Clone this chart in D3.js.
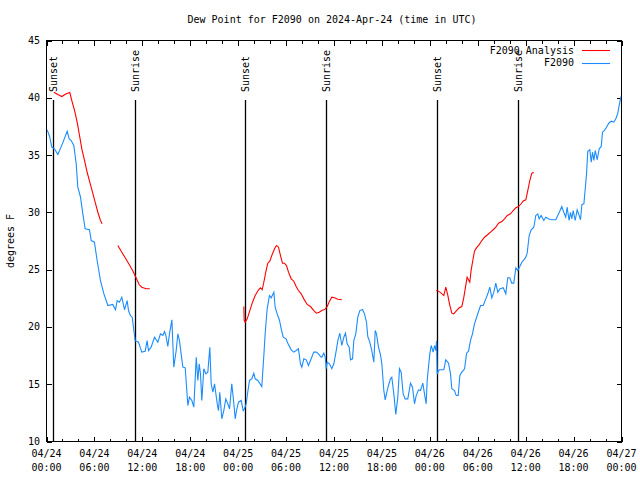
<!DOCTYPE html>
<html><head><meta charset="utf-8">
<script src="https://cdn.jsdelivr.net/npm/d3@7/dist/d3.min.js"></script>
<style>body{margin:0;background:#fff}svg{display:block}text{font-family:"DejaVu Sans Mono",monospace;font-size:10px;fill:#000}</style>
</head><body><svg id="c" width="640" height="480"></svg>
<script>
const titleText = "Dew Point for F2090 on 2024-Apr-24 (time in UTC)";
const yLabel = "degrees F";
const seriesNames = ["F2090 Analysis", "F2090"];
const yTicks = [10, 15, 20, 25, 30, 35, 40, 45];
const xMajorHours = [0, 6, 12, 18, 24, 30, 36, 42, 48, 54, 60, 66, 72];
const sunsetHours = [0.8, 24.82, 48.85];
const sunriseHours = [11.05, 35.05, 59.02];
// hours since 2024-04-24 00:00 UTC, dew point (F)
const station = [[0.08,37.2],[0.4,36.6],[0.66,35.7],[1.0,35.55],[1.42,35.05],[2.0,36.0],[2.59,37.08],[2.85,36.4],[3.09,36.27],[3.42,35.84],[3.72,34.24],[3.92,32.2],[4.26,31.32],[4.55,29.87],[4.84,28.56],[5.38,28.48],[5.6,27.54],[6.0,27.4],[6.34,25.8],[6.76,24.05],[7.18,22.9],[7.68,21.87],[8.3,21.96],[8.64,21.5],[8.85,22.3],[9.14,22.16],[9.43,22.6],[9.77,21.5],[10.1,22.3],[10.27,21.43],[10.5,21.0],[10.73,20.85],[10.93,19.75],[11.1,18.8],[11.52,18.67],[11.93,17.8],[12.36,17.88],[12.6,18.8],[12.77,17.94],[13.1,18.23],[13.52,19.1],[13.94,18.67],[14.27,19.4],[14.56,19.25],[14.78,19.6],[14.95,19.25],[15.19,18.3],[15.4,19.4],[15.7,20.62],[15.94,16.49],[16.24,17.94],[16.45,19.4],[16.65,18.8],[16.86,17.65],[17.07,16.49],[17.37,16.43],[17.7,13.14],[17.9,13.87],[18.2,13.58],[18.45,13.0],[18.75,17.36],[18.95,15.33],[19.12,16.78],[19.28,15.9],[19.45,13.58],[19.7,16.35],[19.95,15.9],[20.2,16.05],[20.45,18.23],[20.62,15.04],[20.83,14.3],[21.04,15.04],[21.37,13.34],[21.54,12.7],[21.7,14.3],[21.95,11.98],[22.2,12.7],[22.45,13.72],[22.7,13.29],[22.92,12.85],[23.2,15.04],[23.42,13.58],[23.63,11.98],[23.79,12.7],[24.04,13.43],[24.38,13.58],[24.63,12.7],[24.79,12.85],[25.0,13.29],[25.2,14.3],[25.42,15.33],[25.7,15.47],[25.96,15.96],[26.13,15.47],[26.46,15.33],[26.96,14.8],[27.2,17.36],[27.38,19.4],[27.63,21.58],[27.92,22.74],[28.13,22.54],[28.47,23.03],[28.63,21.72],[28.88,21.14],[29.18,20.56],[29.39,19.84],[29.64,19.1],[30.0,18.96],[30.2,18.6],[30.64,18.0],[30.97,17.8],[31.26,17.94],[31.55,18.09],[31.8,16.78],[31.97,16.49],[32.22,17.22],[32.52,17.13],[32.8,16.63],[33.14,17.22],[33.47,17.8],[33.8,17.8],[34.06,17.65],[34.31,17.42],[34.47,17.36],[34.72,17.71],[34.9,17.36],[35.02,16.35],[35.15,16.92],[35.44,16.78],[35.73,16.35],[35.98,16.78],[36.28,17.94],[36.48,18.8],[36.73,19.45],[36.98,18.38],[37.23,19.1],[37.44,19.45],[37.65,18.53],[37.9,18.23],[38.07,17.13],[38.32,17.22],[38.48,18.8],[38.73,19.4],[38.98,20.85],[39.23,21.43],[39.57,21.52],[39.82,21.14],[40.07,20.41],[40.23,19.16],[40.48,18.67],[40.73,17.94],[40.99,16.92],[41.16,19.69],[41.32,19.4],[41.57,18.23],[41.82,17.56],[41.99,16.78],[42.24,14.45],[42.41,13.64],[42.57,14.16],[42.82,14.89],[43.07,15.47],[43.24,15.61],[43.49,14.16],[43.74,12.36],[43.99,13.87],[44.2,16.35],[44.41,16.05],[44.66,14.16],[44.91,13.72],[45.24,13.72],[45.58,15.09],[45.83,14.74],[46.08,13.29],[46.29,14.01],[46.58,14.51],[46.83,14.45],[47.12,15.09],[47.33,14.16],[47.54,13.29],[47.67,15.33],[47.83,16.49],[48.0,17.65],[48.17,18.38],[48.42,17.8],[48.59,18.38],[48.75,17.94],[48.84,18.8],[48.92,15.9],[49.17,16.26],[49.75,16.26],[50.0,17.13],[50.34,16.84],[50.59,15.9],[50.75,14.6],[51.09,14.45],[51.3,14.01],[51.55,14.01],[51.76,15.76],[52.01,16.05],[52.35,16.35],[52.6,17.71],[52.85,17.88],[53.09,18.8],[53.34,19.4],[53.59,20.27],[53.93,21.0],[54.35,21.87],[54.68,21.87],[55.01,22.45],[55.26,22.89],[55.51,23.47],[55.76,22.54],[56.01,23.03],[56.26,23.82],[56.51,23.03],[56.76,23.32],[57.19,23.42],[57.51,22.89],[57.76,24.29],[58.01,24.29],[58.26,23.82],[58.51,23.82],[58.77,25.16],[59.02,24.93],[59.27,25.27],[59.52,25.65],[59.77,25.86],[60.02,26.09],[60.19,26.44],[60.44,27.98],[60.69,28.48],[61.02,28.7],[61.27,29.73],[61.52,29.87],[61.69,29.44],[61.94,29.73],[62.27,29.29],[62.52,29.58],[62.85,29.44],[63.19,29.35],[63.77,29.35],[64.02,29.73],[64.27,30.1],[64.52,30.51],[64.77,30.01],[65.02,29.58],[65.19,30.45],[65.44,29.29],[65.61,30.01],[65.78,29.44],[65.95,30.16],[66.2,29.29],[66.45,30.22],[66.7,29.73],[66.87,29.35],[67.04,30.68],[67.29,30.75],[67.46,32.06],[67.62,33.36],[67.78,35.34],[68.03,35.46],[68.21,34.38],[68.37,35.25],[68.54,34.53],[68.71,35.4],[68.96,34.59],[69.21,35.55],[69.46,35.75],[69.62,37.0],[69.87,37.15],[70.12,37.43],[70.41,37.78],[70.71,37.96],[71.04,37.87],[71.29,38.17],[71.54,38.66],[71.71,39.33],[71.87,39.91],[72.0,40.2]];
const analysis1 = [[0.92,40.49],[1.42,40.29],[1.92,40.11],[2.47,40.35],[2.92,40.46],[3.17,39.76],[3.51,38.89],[3.84,37.87],[4.17,36.56],[4.42,35.55],[4.76,34.53],[5.09,33.5],[5.42,32.63],[5.76,31.76],[6.09,30.89],[6.43,30.01],[6.76,29.29],[6.97,29.0]];
const analysis2 = [[8.93,27.11],[9.43,26.52],[9.93,25.95],[10.43,25.36],[10.85,24.84],[11.27,24.2],[11.6,23.7],[11.93,23.47],[12.48,23.33],[12.94,23.33]];
const analysis3 = [[24.71,21.78],[24.75,20.6],[24.88,20.41],[25.13,20.71],[25.46,21.43],[25.8,22.16],[26.13,22.74],[26.55,23.24],[26.8,23.42],[27.01,23.24],[27.21,23.9],[27.46,24.78],[27.71,25.56],[27.96,25.74],[28.21,26.23],[28.55,26.82],[28.8,27.11],[29.05,26.96],[29.3,26.23],[29.55,25.56],[29.8,25.56],[30.05,25.36],[30.3,24.78],[30.64,24.2],[30.97,23.99],[31.26,23.53],[31.55,23.18],[31.89,22.89],[32.22,22.45],[32.64,21.96],[33.06,21.78],[33.47,21.43],[33.8,21.2],[34.14,21.29],[34.47,21.43],[34.9,21.55],[35.15,21.78],[35.44,22.25],[35.73,22.6],[36.06,22.54],[36.48,22.42],[36.98,22.37]];
const analysis4 = [[48.79,23.18],[49.09,23.12],[49.42,22.95],[49.75,22.74],[50.0,23.47],[50.26,22.74],[50.46,22.02],[50.75,21.2],[51.0,21.14],[51.34,21.43],[51.68,21.67],[52.01,21.78],[52.26,22.6],[52.5,23.62],[52.67,24.34],[52.84,24.11],[53.0,23.9],[53.17,24.93],[53.38,25.8],[53.59,26.61],[53.84,26.9],[54.18,27.19],[54.51,27.54],[54.85,27.83],[55.26,28.07],[55.6,28.27],[55.93,28.48],[56.26,28.7],[56.6,29.05],[57.02,29.2],[57.35,29.44],[57.69,29.73],[58.1,29.87],[58.44,30.16],[58.77,30.4],[59.1,30.51],[59.44,30.75],[59.69,31.0],[60.02,31.09],[60.27,31.91],[60.52,32.78],[60.77,33.42],[61.02,33.48]];

const t0 = Date.UTC(2024, 3, 24, 0, 0);
const T = h => new Date(t0 + h * 3600e3);
const L = 46.5, R = 621.5, TOP = 40.5, BOT = 441.5;
const x = d3.scaleUtc().domain([T(0), T(72)]).range([L, R]);
const y = d3.scaleLinear().domain([10, 45]).range([BOT, TOP]);
const svg = d3.select("#c");

svg.append("text").attr("x", 332).attr("y", 23).attr("text-anchor", "middle").text(titleText);
svg.append("text").attr("transform", "translate(14,241) rotate(-90)").attr("text-anchor", "middle").text(yLabel);

const minorHours = d3.range(0, 73, 2).filter(h => h % 6 !== 0);
function ticksX(g, dir) {
  g.append("g").call(d3.axisBottom(x).tickValues(xMajorHours.map(T)).tickSize(dir * 5).tickFormat(""))
    .call(a => a.select(".domain").remove());
  g.append("g").call(d3.axisBottom(x).tickValues(minorHours.map(T)).tickSize(dir * 3).tickFormat(""))
    .call(a => a.select(".domain").remove());
}
ticksX(svg.append("g").attr("transform", `translate(0,${BOT})`), -1);
ticksX(svg.append("g").attr("transform", `translate(0,${TOP})`), 1);
svg.append("g").attr("transform", `translate(${L},0)`)
  .call(d3.axisLeft(y).tickValues(yTicks).tickSize(-5).tickFormat(""))
  .call(a => a.select(".domain").remove());
svg.append("g").attr("transform", `translate(${R},0)`)
  .call(d3.axisRight(y).tickValues(yTicks).tickSize(-5).tickFormat(""))
  .call(a => a.select(".domain").remove());
svg.selectAll(".tick line").attr("stroke", "#000").attr("shape-rendering", "crispEdges");

svg.append("g").selectAll("text").data(yTicks).join("text")
  .attr("x", 40).attr("y", d => y(d)).attr("dy", "0.35em").attr("text-anchor", "end").text(d => d);

const fmtD = d3.utcFormat("%m/%d"), fmtT = d3.utcFormat("%H:%M");
const xl = svg.append("g").selectAll("text").data(xMajorHours).join("text")
  .attr("text-anchor", "middle");
xl.append("tspan").attr("x", h => x(T(h))).attr("y", 457).text(h => fmtD(T(h)));
xl.append("tspan").attr("x", h => x(T(h))).attr("y", 471).text(h => fmtT(T(h)));

// sunrise / sunset markers
const marks = sunsetHours.map(h => ({h, label: "Sunset"})).concat(sunriseHours.map(h => ({h, label: "Sunrise"})));
const mg = svg.append("g");
mg.selectAll("line").data(marks).join("line")
  .attr("x1", d => Math.round(x(T(d.h))) + 0.5).attr("x2", d => Math.round(x(T(d.h))) + 0.5)
  .attr("y1", y(39.8)).attr("y2", BOT).attr("stroke", "#000").attr("stroke-width", 1.3);
mg.selectAll("text").data(marks).join("text")
  .attr("transform", d => `translate(${Math.round(x(T(d.h))) + 0.5},92) rotate(-90)`)
  .attr("dy", "0.35em").text(d => d.label);

const line = d3.line().x(d => x(T(d[0]))).y(d => y(d[1]));
const plot = svg.append("g");
[analysis1, analysis2, analysis3, analysis4].forEach(seg =>
  plot.append("path").datum(seg).attr("d", line).attr("fill", "none").attr("stroke", "#ff0000").attr("stroke-width", 1.1));
plot.append("path").datum(station).attr("d", line).attr("fill", "none").attr("stroke", "#1a8cff").attr("stroke-width", 1.1);

// frame
svg.append("rect").attr("x", L).attr("y", TOP).attr("width", R - L).attr("height", BOT - TOP)
  .attr("fill", "none").attr("stroke", "#000").attr("shape-rendering", "crispEdges");

// legend
const legColors = ["#ff0000", "#1a8cff"];
const lg = svg.append("g");
seriesNames.forEach((n, i) => {
  const yy = 50 + i * 12.5;
  lg.append("text").attr("x", 574).attr("y", yy).attr("dy", "0.35em").attr("text-anchor", "end").text(n);
  lg.append("line").attr("x1", 582).attr("x2", 610).attr("y1", Math.round(yy) + 0.5).attr("y2", Math.round(yy) + 0.5)
    .attr("stroke", legColors[i]).attr("stroke-width", 1.1);
});
</script></body></html>
